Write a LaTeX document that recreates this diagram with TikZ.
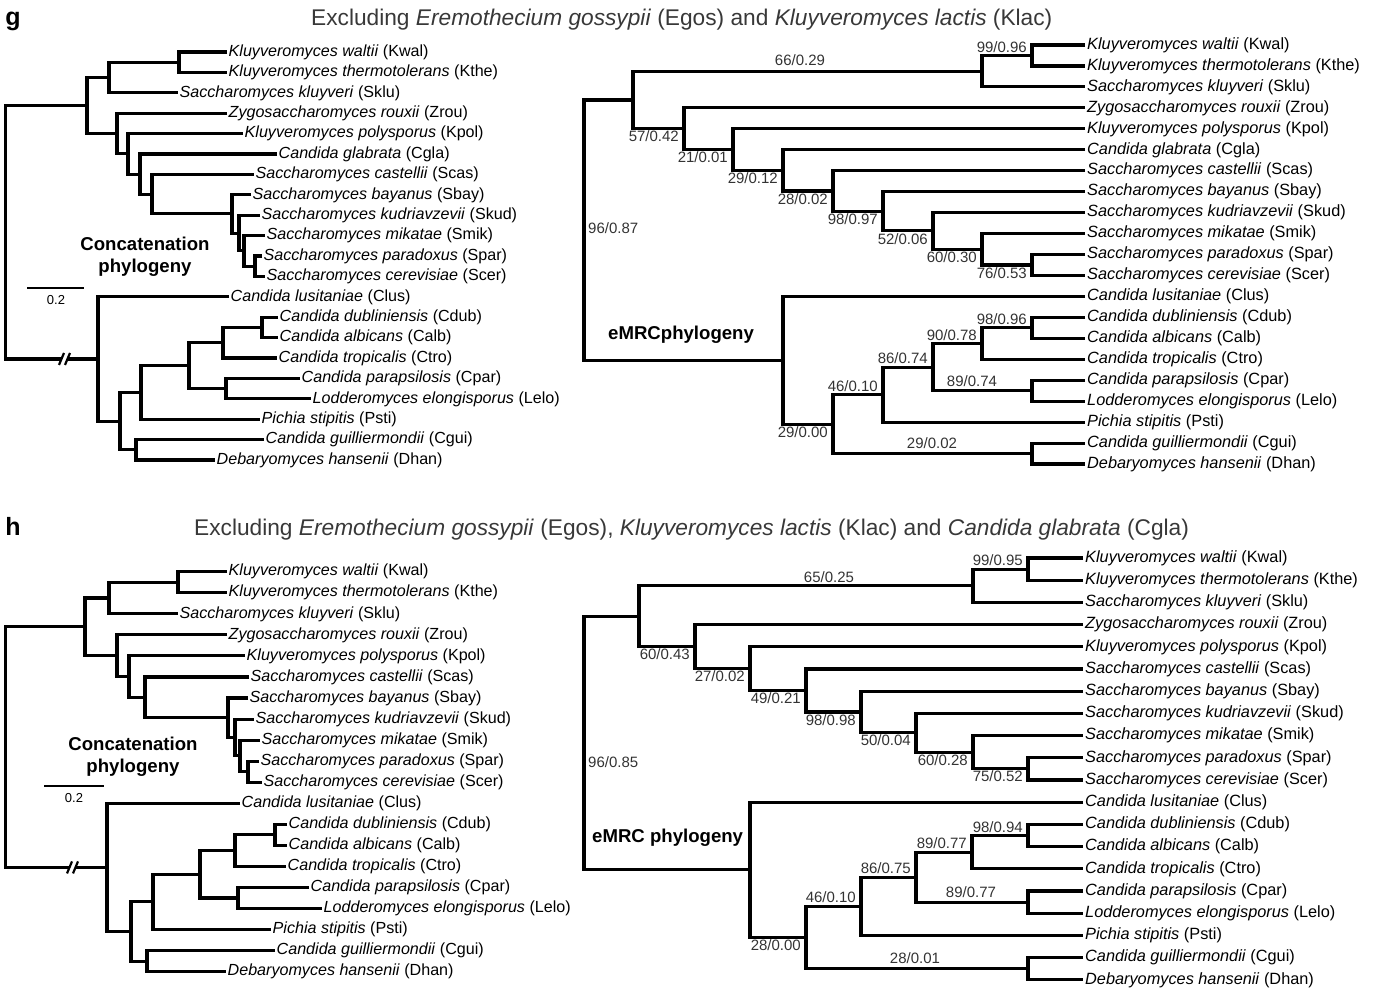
\documentclass[tikz,border=0pt]{standalone}
\usepackage{fontspec}
\setmainfont{Liberation Sans}
\usetikzlibrary{positioning}
\newcommand{\taxon}[2]{\textit{#1} (#2)}

\begin{document}
\begin{tikzpicture}[x=1pt, y=-1pt,
    br/.style={line width=3.1pt},
    sbar/.style={line width=2.8pt},
    tipl/.style={anchor=west, inner sep=1.5pt, font=\fontsize{16.1}{18}\selectfont, text height=11.8pt, text depth=3.4pt},
    tipr/.style={anchor=west, inner sep=2pt, font=\fontsize{16.3}{18}\selectfont, text height=11.9pt, text depth=3.4pt},
    sv/.style={font=\fontsize{15}{17}\selectfont, text=black!80, inner sep=1pt},
    bsv/.style={sv, anchor=north east, xshift=-4pt, yshift=-1pt},
    asv/.style={sv, anchor=south east, xshift=-4pt, yshift=2pt},
    csv/.style={sv, anchor=center},
    scl/.style={font=\fontsize{13}{15}\selectfont, inner sep=1pt},
    lbl/.style={font=\bfseries\fontsize{18.6}{22}\selectfont, align=center, inner sep=1pt},
    ttl/.style={font=\fontsize{22.7}{26}\selectfont, text=black!78, inner sep=0pt},
    pnl/.style={font=\bfseries\fontsize{25}{28}\selectfont, inner sep=0pt},
    brk/.style={line width=2.2pt}
]
\useasboundingbox (0,0) rectangle (1376,991);

% ---------------- panel g ----------------
\node[pnl, anchor=base] (gpnl) at (13,25) {g};
\node[ttl, anchor=base west] (gttl) at (311,25) {Excluding \textit{Eremothecium gossypii} (Egos) and \textit{Kluyveromyces lactis} (Klac)};

% g: concatenation tree
\node[tipl] (gckwal) at (227,52) {\taxon{Kluyveromyces waltii}{Kwal}};
\node[tipl] (gckthe) at (227,72.4) {\taxon{Kluyveromyces thermotolerans}{Kthe}};
\node[tipl] (gcsklu) at (178,92.8) {\taxon{Saccharomyces kluyveri}{Sklu}};
\node[tipl] (gczrou) at (227,113.2) {\taxon{Zygosaccharomyces rouxii}{Zrou}};
\node[tipl] (gckpol) at (243,133.6) {\taxon{Kluyveromyces polysporus}{Kpol}};
\node[tipl] (gccgla) at (277,154) {\taxon{Candida glabrata}{Cgla}};
\node[tipl] (gcscas) at (254,174.4) {\taxon{Saccharomyces castellii}{Scas}};
\node[tipl] (gcsbay) at (251,194.8) {\taxon{Saccharomyces bayanus}{Sbay}};
\node[tipl] (gcskud) at (260,215.2) {\taxon{Saccharomyces kudriavzevii}{Skud}};
\node[tipl] (gcsmik) at (265,235.6) {\taxon{Saccharomyces mikatae}{Smik}};
\node[tipl] (gcspar) at (262,256) {\taxon{Saccharomyces paradoxus}{Spar}};
\node[tipl] (gcscer) at (265,276.4) {\taxon{Saccharomyces cerevisiae}{Scer}};
\node[tipl] (gcclus) at (229,296.8) {\taxon{Candida lusitaniae}{Clus}};
\node[tipl] (gccdub) at (278,317.2) {\taxon{Candida dubliniensis}{Cdub}};
\node[tipl] (gccalb) at (278,337.6) {\taxon{Candida albicans}{Calb}};
\node[tipl] (gcctro) at (277,358) {\taxon{Candida tropicalis}{Ctro}};
\node[tipl] (gccpar) at (300,378.4) {\taxon{Candida parapsilosis}{Cpar}};
\node[tipl] (gclelo) at (311,398.8) {\taxon{Lodderomyces elongisporus}{Lelo}};
\node[tipl] (gcpsti) at (260,419.2) {\taxon{Pichia stipitis}{Psti}};
\node[tipl] (gccgui) at (264,439.6) {\taxon{Candida guilliermondii}{Cgui}};
\node[tipl] (gcdhan) at (215,460) {\taxon{Debaryomyces hansenii}{Dhan}};

\coordinate (gc3) at (179,62.2);
\coordinate (gc2) at (109,77.5);
\coordinate (gc11) at (255,266.2);
\coordinate (gc10) at (244,250.9);
\coordinate (gc9) at (239,233.05);
\coordinate (gc8) at (232,213.9);
\coordinate (gc7) at (152,194.15);
\coordinate (gc6) at (140,174.1);
\coordinate (gc5) at (128,153.85);
\coordinate (gc4) at (117,133.5);
\coordinate (gc1) at (87,105.5);
\coordinate (gc17) at (262,327.4);
\coordinate (gc16) at (223,342.7);
\coordinate (gc18) at (226,388.6);
\coordinate (gc15) at (189,365.65);
\coordinate (gc14) at (141,392.4);
\coordinate (gc19) at (136,449.8);
\coordinate (gc13) at (120,421.1);
\coordinate (gc12) at (98,358.95);
\coordinate (gc0) at (5.5,232);

\draw[br] (gckwal.west) -| (gc3) |- (gckthe.west);
\draw[br] (gc3) -| (gc2) |- (gcsklu.west);
\draw[br] (gcspar.west) -| (gc11) |- (gcscer.west);
\draw[br] (gcsmik.west) -| (gc10) |- (gc11);
\draw[br] (gcskud.west) -| (gc9) |- (gc10);
\draw[br] (gcsbay.west) -| (gc8) |- (gc9);
\draw[br] (gcscas.west) -| (gc7) |- (gc8);
\draw[br] (gccgla.west) -| (gc6) |- (gc7);
\draw[br] (gckpol.west) -| (gc5) |- (gc6);
\draw[br] (gczrou.west) -| (gc4) |- (gc5);
\draw[br] (gc2) -| (gc1) |- (gc4);
\draw[br] (gccdub.west) -| (gc17) |- (gccalb.west);
\draw[br] (gc17) -| (gc16) |- (gcctro.west);
\draw[br] (gccpar.west) -| (gc18) |- (gclelo.west);
\draw[br] (gc16) -| (gc15) |- (gc18);
\draw[br] (gc15) -| (gc14) |- (gcpsti.west);
\draw[br] (gccgui.west) -| (gc19) |- (gcdhan.west);
\draw[br] (gc14) -| (gc13) |- (gc19);
\draw[br] (gcclus.west) -| (gc12) |- (gc13);
\draw[br] (gc1) -| (gc0) |- (gc12);

% break mark and scale bar
\coordinate (gcbrk) at (65,358.95);
\fill[white] ([shift={(-6,6)}]gcbrk) -- ([shift={(-1,-6)}]gcbrk) -- ([shift={(5,-6)}]gcbrk) -- ([shift={(0,6)}]gcbrk) -- cycle;
\draw[brk] ([shift={(-6,6)}]gcbrk) -- ([shift={(-1,-6)}]gcbrk);
\draw[brk] ([shift={(0,6)}]gcbrk) -- ([shift={(5,-6)}]gcbrk);
\coordinate (gcsb1) at (27,288);
\coordinate (gcsb2) at (84,288);
\draw[sbar] (gcsb1) -- (gcsb2);
\node[scl] (gcscl) at (56,300) {0.2};
\node[lbl] (gclbl) at (145,257) {Concatenation\\phylogeny};

% g: eMRC tree
\node[tipr] (gekwal) at (1085,45) {\taxon{Kluyveromyces waltii}{Kwal}};
\node[tipr] (gekthe) at (1085,65.95) {\taxon{Kluyveromyces thermotolerans}{Kthe}};
\node[tipr] (gesklu) at (1085,86.9) {\taxon{Saccharomyces kluyveri}{Sklu}};
\node[tipr] (gezrou) at (1085,107.85) {\taxon{Zygosaccharomyces rouxii}{Zrou}};
\node[tipr] (gekpol) at (1085,128.8) {\taxon{Kluyveromyces polysporus}{Kpol}};
\node[tipr] (gecgla) at (1085,149.75) {\taxon{Candida glabrata}{Cgla}};
\node[tipr] (gescas) at (1085,170.7) {\taxon{Saccharomyces castellii}{Scas}};
\node[tipr] (gesbay) at (1085,191.65) {\taxon{Saccharomyces bayanus}{Sbay}};
\node[tipr] (geskud) at (1085,212.6) {\taxon{Saccharomyces kudriavzevii}{Skud}};
\node[tipr] (gesmik) at (1085,233.55) {\taxon{Saccharomyces mikatae}{Smik}};
\node[tipr] (gespar) at (1085,254.5) {\taxon{Saccharomyces paradoxus}{Spar}};
\node[tipr] (gescer) at (1085,275.45) {\taxon{Saccharomyces cerevisiae}{Scer}};
\node[tipr] (geclus) at (1085,296.4) {\taxon{Candida lusitaniae}{Clus}};
\node[tipr] (gecdub) at (1085,317.35) {\taxon{Candida dubliniensis}{Cdub}};
\node[tipr] (gecalb) at (1085,338.3) {\taxon{Candida albicans}{Calb}};
\node[tipr] (gectro) at (1085,359.25) {\taxon{Candida tropicalis}{Ctro}};
\node[tipr] (gecpar) at (1085,380.2) {\taxon{Candida parapsilosis}{Cpar}};
\node[tipr] (gelelo) at (1085,401.15) {\taxon{Lodderomyces elongisporus}{Lelo}};
\node[tipr] (gepsti) at (1085,422.1) {\taxon{Pichia stipitis}{Psti}};
\node[tipr] (gecgui) at (1085,443.05) {\taxon{Candida guilliermondii}{Cgui}};
\node[tipr] (gedhan) at (1085,464) {\taxon{Debaryomyces hansenii}{Dhan}};

\coordinate (geC) at (1032,55.48);
\coordinate (geB) at (982,71.19);
\coordinate (geK) at (1032,264.98);
\coordinate (geJ) at (982,249.26);
\coordinate (geI) at (933,230.93);
\coordinate (geH) at (883,211.29);
\coordinate (geG) at (833,190.99);
\coordinate (geF) at (783,170.37);
\coordinate (geE) at (733,149.59);
\coordinate (geD) at (684,128.72);
\coordinate (geA) at (633,99.95);
\coordinate (geQ) at (1032,327.83);
\coordinate (geP) at (982,343.54);
\coordinate (geR) at (1032,390.68);
\coordinate (geO) at (933,367.11);
\coordinate (geN) at (883,394.6);
\coordinate (geS) at (1032,453.53);
\coordinate (geM) at (833,424.07);
\coordinate (geL) at (783,360.23);
\coordinate (ge0) at (584,230);

\draw[br] (gekwal.west) -| (geC) |- (gekthe.west);
\draw[br] (geC) -| (geB) |- (gesklu.west);
\draw[br] (gespar.west) -| (geK) |- (gescer.west);
\draw[br] (gesmik.west) -| (geJ) |- (geK);
\draw[br] (geskud.west) -| (geI) |- (geJ);
\draw[br] (gesbay.west) -| (geH) |- (geI);
\draw[br] (gescas.west) -| (geG) |- (geH);
\draw[br] (gecgla.west) -| (geF) |- (geG);
\draw[br] (gekpol.west) -| (geE) |- (geF);
\draw[br] (gezrou.west) -| (geD) |- (geE);
\draw[br] (geB) -| (geA) |- (geD);
\draw[br] (gecdub.west) -| (geQ) |- (gecalb.west);
\draw[br] (geQ) -| (geP) |- (gectro.west);
\draw[br] (gecpar.west) -| (geR) |- (gelelo.west);
\draw[br] (geP) -| (geO) |- (geR);
\draw[br] (geO) -| (geN) |- (gepsti.west);
\draw[br] (gecgui.west) -| (geS) |- (gedhan.west);
\draw[br] (geN) -| (geM) |- (geS);
\draw[br] (geclus.west) -| (geL) |- (geM);
\draw[br] (geA) -| (ge0) |- (geL);

\node[csv] (gesA) at (800,60) {66/0.29};
\node[asv] (gesC) at (geC) {99/0.96};
\node[bsv] (gesD) at (geD) {57/0.42};
\node[bsv] (gesE) at (geE) {21/0.01};
\node[bsv] (gesF) at (geF) {29/0.12};
\node[bsv] (gesG) at (geG) {28/0.02};
\node[bsv] (gesH) at (geH) {98/0.97};
\node[bsv] (gesI) at (geI) {52/0.06};
\node[bsv] (gesJ) at (geJ) {60/0.30};
\node[bsv] (gesK) at (geK) {76/0.53};
\node[sv, anchor=west] (ges0) at (587,228) {96/0.87};
\node[bsv] (gesM) at (geM) {29/0.00};
\node[asv] (gesN) at (geN) {46/0.10};
\node[asv] (gesO) at (geO) {86/0.74};
\node[asv] (gesP) at (geP) {90/0.78};
\node[asv] (gesQ) at (geQ) {98/0.96};
\node[csv] (gesR) at (972,381) {89/0.74};
\node[csv] (gesS) at (932,443) {29/0.02};
\node[lbl, anchor=west] (gelbl) at (607,335) {eMRCphylogeny};

% ---------------- panel h ----------------
\node[pnl, anchor=base] (hpnl) at (13,535) {h};
\node[ttl, anchor=base west] (httl) at (194,535) {Excluding \textit{Eremothecium gossypii} (Egos), \textit{Kluyveromyces lactis} (Klac) and \textit{Candida glabrata} (Cgla)};

% h: concatenation tree
\node[tipl] (hckwal) at (227,571.7) {\taxon{Kluyveromyces waltii}{Kwal}};
\node[tipl] (hckthe) at (227,592.75) {\taxon{Kluyveromyces thermotolerans}{Kthe}};
\node[tipl] (hcsklu) at (178,613.8) {\taxon{Saccharomyces kluyveri}{Sklu}};
\node[tipl] (hczrou) at (227,634.85) {\taxon{Zygosaccharomyces rouxii}{Zrou}};
\node[tipl] (hckpol) at (245,655.9) {\taxon{Kluyveromyces polysporus}{Kpol}};
\node[tipl] (hcscas) at (249,676.95) {\taxon{Saccharomyces castellii}{Scas}};
\node[tipl] (hcsbay) at (248,698) {\taxon{Saccharomyces bayanus}{Sbay}};
\node[tipl] (hcskud) at (254,719.05) {\taxon{Saccharomyces kudriavzevii}{Skud}};
\node[tipl] (hcsmik) at (260,740.1) {\taxon{Saccharomyces mikatae}{Smik}};
\node[tipl] (hcspar) at (259,761.15) {\taxon{Saccharomyces paradoxus}{Spar}};
\node[tipl] (hcscer) at (262,782.2) {\taxon{Saccharomyces cerevisiae}{Scer}};
\node[tipl] (hcclus) at (240,803.25) {\taxon{Candida lusitaniae}{Clus}};
\node[tipl] (hccdub) at (287,824.3) {\taxon{Candida dubliniensis}{Cdub}};
\node[tipl] (hccalb) at (287,845.35) {\taxon{Candida albicans}{Calb}};
\node[tipl] (hcctro) at (286,866.4) {\taxon{Candida tropicalis}{Ctro}};
\node[tipl] (hccpar) at (309,887.45) {\taxon{Candida parapsilosis}{Cpar}};
\node[tipl] (hclelo) at (322,908.5) {\taxon{Lodderomyces elongisporus}{Lelo}};
\node[tipl] (hcpsti) at (271,929.55) {\taxon{Pichia stipitis}{Psti}};
\node[tipl] (hccgui) at (275,950.6) {\taxon{Candida guilliermondii}{Cgui}};
\node[tipl] (hcdhan) at (226,971.65) {\taxon{Debaryomyces hansenii}{Dhan}};

\coordinate (hc3) at (178,582.2);
\coordinate (hc2) at (109,598);
\coordinate (hc10) at (248,771.7);
\coordinate (hc9) at (240,755.9);
\coordinate (hc8) at (235,737.5);
\coordinate (hc7) at (228,717.75);
\coordinate (hc6) at (145,697.35);
\coordinate (hc5) at (129,676.6);
\coordinate (hc4) at (117,655.7);
\coordinate (hc1) at (85,626.85);
\coordinate (hc16) at (275,834.8);
\coordinate (hc15) at (235,850.6);
\coordinate (hc17) at (238,898);
\coordinate (hc14) at (200,874.3);
\coordinate (hc13) at (153,901.9);
\coordinate (hc18) at (147,961.1);
\coordinate (hc12) at (131,931.5);
\coordinate (hc11) at (107,867.4);
\coordinate (hc0) at (5.5,747);

\draw[br] (hckwal.west) -| (hc3) |- (hckthe.west);
\draw[br] (hc3) -| (hc2) |- (hcsklu.west);
\draw[br] (hcspar.west) -| (hc10) |- (hcscer.west);
\draw[br] (hcsmik.west) -| (hc9) |- (hc10);
\draw[br] (hcskud.west) -| (hc8) |- (hc9);
\draw[br] (hcsbay.west) -| (hc7) |- (hc8);
\draw[br] (hcscas.west) -| (hc6) |- (hc7);
\draw[br] (hckpol.west) -| (hc5) |- (hc6);
\draw[br] (hczrou.west) -| (hc4) |- (hc5);
\draw[br] (hc2) -| (hc1) |- (hc4);
\draw[br] (hccdub.west) -| (hc16) |- (hccalb.west);
\draw[br] (hc16) -| (hc15) |- (hcctro.west);
\draw[br] (hccpar.west) -| (hc17) |- (hclelo.west);
\draw[br] (hc15) -| (hc14) |- (hc17);
\draw[br] (hc14) -| (hc13) |- (hcpsti.west);
\draw[br] (hccgui.west) -| (hc18) |- (hcdhan.west);
\draw[br] (hc13) -| (hc12) |- (hc18);
\draw[br] (hcclus.west) -| (hc11) |- (hc12);
\draw[br] (hc1) -| (hc0) |- (hc11);

\coordinate (hcbrk) at (73,867.4);
\fill[white] ([shift={(-6,6)}]hcbrk) -- ([shift={(-1,-6)}]hcbrk) -- ([shift={(5,-6)}]hcbrk) -- ([shift={(0,6)}]hcbrk) -- cycle;
\draw[brk] ([shift={(-6,6)}]hcbrk) -- ([shift={(-1,-6)}]hcbrk);
\draw[brk] ([shift={(0,6)}]hcbrk) -- ([shift={(5,-6)}]hcbrk);
\coordinate (hcsb1) at (44,786);
\coordinate (hcsb2) at (104,786);
\draw[sbar] (hcsb1) -- (hcsb2);
\node[scl] (hcscl) at (74,798) {0.2};
\node[lbl] (hclbl) at (133,757) {Concatenation\\phylogeny};

% h: eMRC tree
\node[tipr] (hekwal) at (1083,558) {\taxon{Kluyveromyces waltii}{Kwal}};
\node[tipr] (hekthe) at (1083,580.2) {\taxon{Kluyveromyces thermotolerans}{Kthe}};
\node[tipr] (hesklu) at (1083,602.4) {\taxon{Saccharomyces kluyveri}{Sklu}};
\node[tipr] (hezrou) at (1083,624.6) {\taxon{Zygosaccharomyces rouxii}{Zrou}};
\node[tipr] (hekpol) at (1083,646.8) {\taxon{Kluyveromyces polysporus}{Kpol}};
\node[tipr] (hescas) at (1083,669) {\taxon{Saccharomyces castellii}{Scas}};
\node[tipr] (hesbay) at (1083,691.2) {\taxon{Saccharomyces bayanus}{Sbay}};
\node[tipr] (heskud) at (1083,713.4) {\taxon{Saccharomyces kudriavzevii}{Skud}};
\node[tipr] (hesmik) at (1083,735.6) {\taxon{Saccharomyces mikatae}{Smik}};
\node[tipr] (hespar) at (1083,757.8) {\taxon{Saccharomyces paradoxus}{Spar}};
\node[tipr] (hescer) at (1083,780) {\taxon{Saccharomyces cerevisiae}{Scer}};
\node[tipr] (heclus) at (1083,802.2) {\taxon{Candida lusitaniae}{Clus}};
\node[tipr] (hecdub) at (1083,824.4) {\taxon{Candida dubliniensis}{Cdub}};
\node[tipr] (hecalb) at (1083,846.6) {\taxon{Candida albicans}{Calb}};
\node[tipr] (hectro) at (1083,868.8) {\taxon{Candida tropicalis}{Ctro}};
\node[tipr] (hecpar) at (1083,891) {\taxon{Candida parapsilosis}{Cpar}};
\node[tipr] (helelo) at (1083,913.2) {\taxon{Lodderomyces elongisporus}{Lelo}};
\node[tipr] (hepsti) at (1083,935.4) {\taxon{Pichia stipitis}{Psti}};
\node[tipr] (hecgui) at (1083,957.6) {\taxon{Candida guilliermondii}{Cgui}};
\node[tipr] (hedhan) at (1083,979.8) {\taxon{Debaryomyces hansenii}{Dhan}};

\coordinate (heC) at (1028,569.1);
\coordinate (heB) at (973,585.75);
\coordinate (heJ) at (1028,768.9);
\coordinate (heI) at (973,752.25);
\coordinate (heH) at (916,732.83);
\coordinate (heG) at (861,712.01);
\coordinate (heF) at (806,690.5);
\coordinate (heE) at (750,668.65);
\coordinate (heD) at (695,646.63);
\coordinate (heA) at (639,616.19);
\coordinate (heQ) at (1028,835.5);
\coordinate (heP) at (972,852.15);
\coordinate (heR) at (1028,902.1);
\coordinate (heO) at (916,877.13);
\coordinate (heN) at (861,906.26);
\coordinate (heS) at (1028,968.7);
\coordinate (heM) at (806,937.48);
\coordinate (heL) at (750,869.84);
\coordinate (he0) at (584,743);

\draw[br] (hekwal.west) -| (heC) |- (hekthe.west);
\draw[br] (heC) -| (heB) |- (hesklu.west);
\draw[br] (hespar.west) -| (heJ) |- (hescer.west);
\draw[br] (hesmik.west) -| (heI) |- (heJ);
\draw[br] (heskud.west) -| (heH) |- (heI);
\draw[br] (hesbay.west) -| (heG) |- (heH);
\draw[br] (hescas.west) -| (heF) |- (heG);
\draw[br] (hekpol.west) -| (heE) |- (heF);
\draw[br] (hezrou.west) -| (heD) |- (heE);
\draw[br] (heB) -| (heA) |- (heD);
\draw[br] (hecdub.west) -| (heQ) |- (hecalb.west);
\draw[br] (heQ) -| (heP) |- (hectro.west);
\draw[br] (hecpar.west) -| (heR) |- (helelo.west);
\draw[br] (heP) -| (heO) |- (heR);
\draw[br] (heO) -| (heN) |- (hepsti.west);
\draw[br] (hecgui.west) -| (heS) |- (hedhan.west);
\draw[br] (heN) -| (heM) |- (heS);
\draw[br] (heclus.west) -| (heL) |- (heM);
\draw[br] (heA) -| (he0) |- (heL);

\node[csv] (hesA) at (829,577) {65/0.25};
\node[asv] (hesC) at (heC) {99/0.95};
\node[bsv] (hesD) at (heD) {60/0.43};
\node[bsv] (hesE) at (heE) {27/0.02};
\node[bsv] (hesF) at (heF) {49/0.21};
\node[bsv] (hesG) at (heG) {98/0.98};
\node[bsv] (hesH) at (heH) {50/0.04};
\node[bsv] (hesI) at (heI) {60/0.28};
\node[bsv] (hesJ) at (heJ) {75/0.52};
\node[sv, anchor=west] (hes0) at (587,762) {96/0.85};
\node[bsv] (hesM) at (heM) {28/0.00};
\node[asv] (hesN) at (heN) {46/0.10};
\node[asv] (hesO) at (heO) {86/0.75};
\node[asv] (hesP) at (heP) {89/0.77};
\node[asv] (hesQ) at (heQ) {98/0.94};
\node[csv] (hesR) at (971,892) {89/0.77};
\node[csv] (hesS) at (915,958) {28/0.01};
\node[lbl, anchor=west] (helbl) at (591,838) {eMRC phylogeny};
\end{tikzpicture}
\end{document}
